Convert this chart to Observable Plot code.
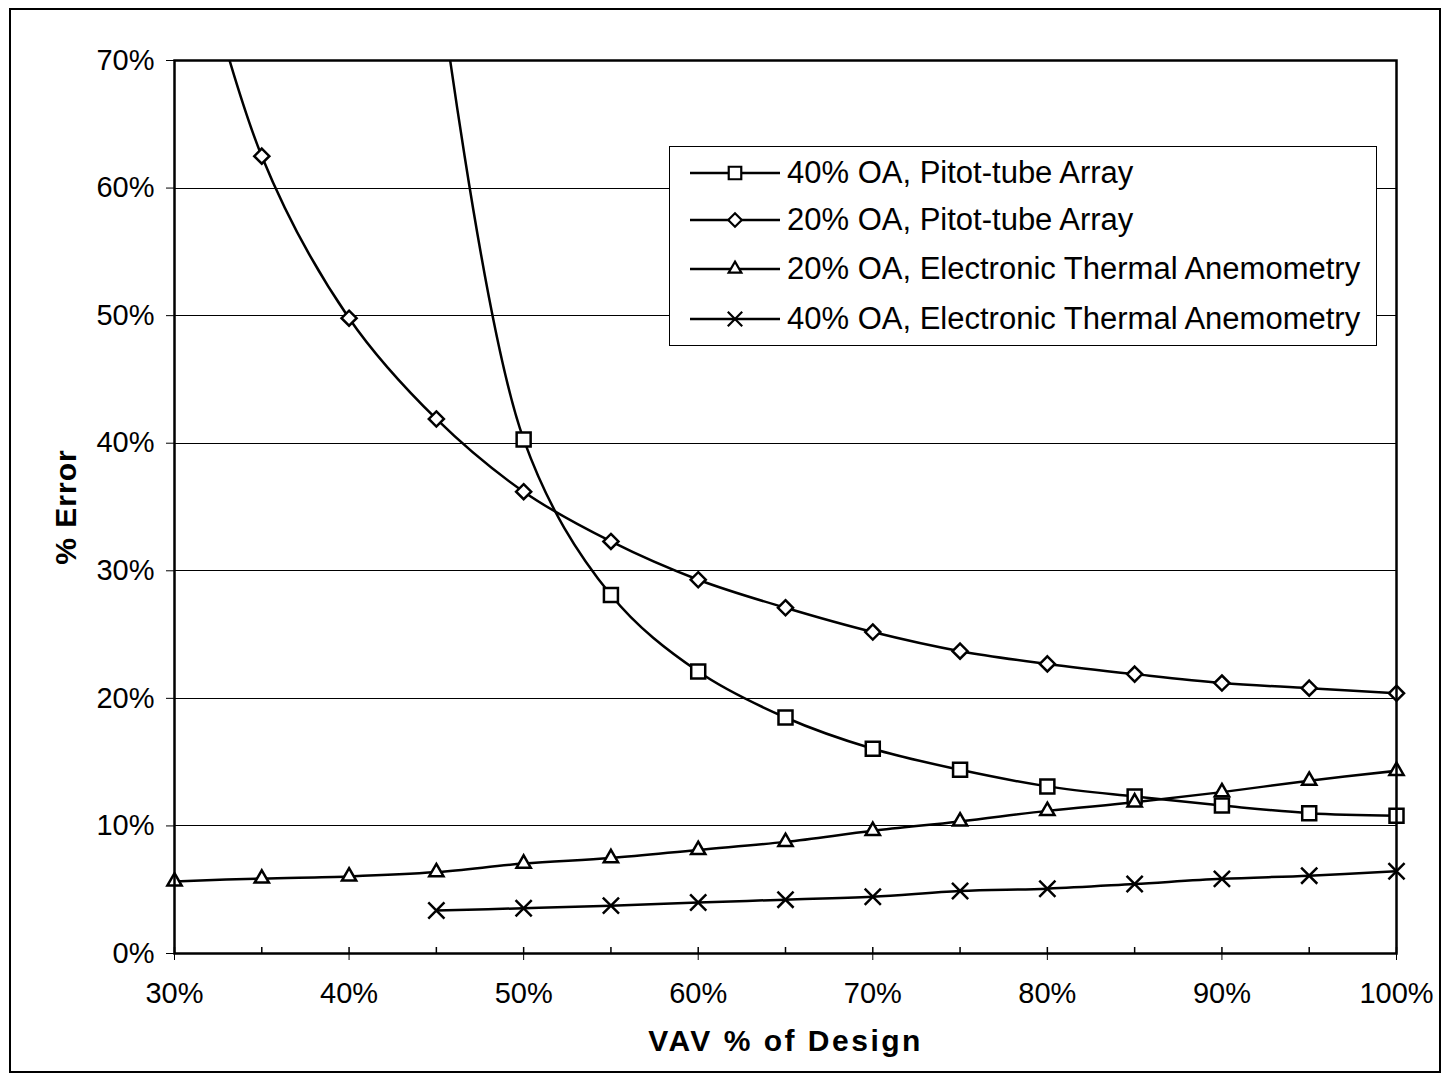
<!DOCTYPE html>
<html>
<head>
<meta charset="utf-8">
<script src="https://cdn.jsdelivr.net/npm/d3@7"></script>
<script src="https://cdn.jsdelivr.net/npm/@observablehq/plot@0.6"></script>
<style>
  body { margin: 0; background: #fff; font-family: "Liberation Sans", Arial, sans-serif; }
  #wrap { position: relative; width: 1450px; height: 1081px; overflow: hidden; }
  #border { position: absolute; left: 9px; top: 8px; width: 1432px; height: 1065px; border: 2.5px solid #000; box-sizing: border-box; pointer-events: none; }
  #legend { position: absolute; left: 669px; top: 146px; width: 708px; height: 200px; border: 1.5px solid #000; box-sizing: border-box; background: #fff; }
  .row { position: absolute; left: 0; height: 40px; display: flex; align-items: center; }
  .row svg { margin-left: 20px; }
  .row span { margin-left: 5px; font-size: 31px; color: #000; white-space: nowrap; }
</style>
</head>
<body>
<div id="wrap">
  <div id="chart"></div>
  <div id="legend"></div>
  <div id="border"></div>
</div>
<script>
// ---- Data ----
const vav = [0.30, 0.35, 0.40, 0.45, 0.50, 0.55, 0.60, 0.65, 0.70, 0.75, 0.80, 0.85, 0.90, 0.95, 1.00];
const oa40Pitot = [null, null, null, 0.78, 0.403, 0.281, 0.221, 0.185, 0.1605, 0.144, 0.131, 0.123, 0.116, 0.110, 0.108];
const oa20Pitot = [0.86, 0.625, 0.498, 0.419, 0.362, 0.323, 0.293, 0.271, 0.252, 0.237, 0.227, 0.219, 0.212, 0.208, 0.204];
const oa20ETA   = [0.0565, 0.0588, 0.0604, 0.0638, 0.0705, 0.0748, 0.0812, 0.0875, 0.0962, 0.1035, 0.1118, 0.1185, 0.1265, 0.1355, 0.1432];
const oa40ETA   = [null, null, null, 0.0337, 0.0355, 0.0375, 0.0400, 0.0422, 0.0445, 0.0490, 0.0508, 0.0545, 0.0585, 0.0610, 0.0645];
const seriesNames = [
  "40% OA, Pitot-tube Array",
  "20% OA, Pitot-tube Array",
  "20% OA, Electronic Thermal Anemometry",
  "40% OA, Electronic Thermal Anemometry"
];
const seriesValues = [oa40Pitot, oa20Pitot, oa20ETA, oa40ETA];
const symbols = ["square", "diamond2", "triangle2", "times"];
const radii = [7.9, 6.8, 6.8, 7.4];
const yTicks = [0, 0.1, 0.2, 0.3, 0.4, 0.5, 0.6, 0.7];
const xTicks = [0.3, 0.4, 0.5, 0.6, 0.7, 0.8, 0.9, 1.0];
const xMinor = [0.3, 0.35, 0.4, 0.45, 0.5, 0.55, 0.6, 0.65, 0.7, 0.75, 0.8, 0.85, 0.9, 0.95, 1.0];
const xTitle = "VAV % of Design";
const yTitle = "% Error";

// ---- Build table ----
const table = [];
seriesValues.forEach((vals, s) => vals.forEach((v, i) => {
  if (v != null) table.push({x: vav[i], y: v, s});
}));

const W = 1450, H = 1081;
const M = {top: 60, right: 54, bottom: 128, left: 174};
const yDomain = [0, 0.7];
const innerTick = (yDomain[1] - yDomain[0]) * 6 / (H - M.top - M.bottom);
const pct = d3.format(".0%");
const font = "'Liberation Sans', Arial, sans-serif";

const marks = [
  Plot.gridY(yTicks.slice(1, -1), {stroke: "#000", strokeOpacity: 1, strokeWidth: 1, shapeRendering: "crispEdges"}),
  Plot.ruleX(xMinor, {x: d => d, y1: 0, y2: innerTick, stroke: "#000", strokeWidth: 1.5}),
  Plot.line(table, {x: "x", y: "y", z: "s", curve: "catmull-rom", stroke: "#000", strokeWidth: 2.5, clip: true}),
  ...symbols.map((sym, k) => Plot.dot(table.filter(d => d.s === k && d.y <= yDomain[1]), {
    x: "x", y: "y", symbol: sym, r: radii[k], fill: "#fff", stroke: "#000", strokeWidth: 2.5
  })),
  Plot.frame({stroke: "#000", strokeWidth: 2.5}),
  Plot.axisY({ticks: yTicks, tickFormat: pct, tickSize: 8, tickPadding: 12, label: null, fontSize: 29, stroke: "#000"}),
  Plot.axisX({ticks: xTicks, tickFormat: pct, tickSize: 7, tickPadding: 22, label: null, fontSize: 29, stroke: "#000"}),
  Plot.text([xTitle], {text: d => d, frameAnchor: "bottom", lineAnchor: "middle", textAnchor: "middle", dy: 88, fontSize: 30, fontWeight: "bold", fill: "#000"}),
  Plot.text([yTitle], {text: d => d, frameAnchor: "left", lineAnchor: "middle", textAnchor: "middle", dx: -108, rotate: -90, fontSize: 30, fontWeight: "bold", fill: "#000"})
];

const chart = Plot.plot({
  width: W, height: H,
  marginTop: M.top, marginRight: M.right, marginBottom: M.bottom, marginLeft: M.left,
  x: {domain: [0.3, 1.0]},
  y: {domain: yDomain},
  style: {fontFamily: font, fontSize: "29px", color: "#000", background: "transparent", overflow: "visible"},
  marks
});
document.getElementById("chart").appendChild(chart);

d3.select(chart).selectAll("text").filter(function() { return this.textContent === xTitle; })
  .attr("letter-spacing", "2.5px");
d3.select(chart).selectAll("text").filter(function() { return this.textContent === yTitle; })
  .attr("letter-spacing", "1px");

// ---- Legend (HTML overlay) ----
const legend = d3.select("#legend");
const rowCenters = [26, 73, 122, 172];
const symMap = {square: d3.symbolSquare, diamond2: d3.symbolDiamond2, triangle2: d3.symbolTriangle2, times: d3.symbolTimes};
seriesNames.forEach((name, k) => {
  const row = legend.append("div").attr("class", "row").style("top", (rowCenters[k] - 20) + "px");
  const svg = row.append("svg").attr("width", 92).attr("height", 40);
  svg.append("line").attr("x1", 0).attr("x2", 90).attr("y1", 20).attr("y2", 20)
    .attr("stroke", "#000").attr("stroke-width", 2.5);
  svg.append("path").attr("transform", "translate(45,20)")
    .attr("d", d3.symbol(symMap[symbols[k]], Math.PI * radii[k] * radii[k] * 0.8)())
    .attr("fill", "#fff").attr("stroke", "#000").attr("stroke-width", 2.2);
  row.append("span").text(name);
});
</script>
</body>
</html>
